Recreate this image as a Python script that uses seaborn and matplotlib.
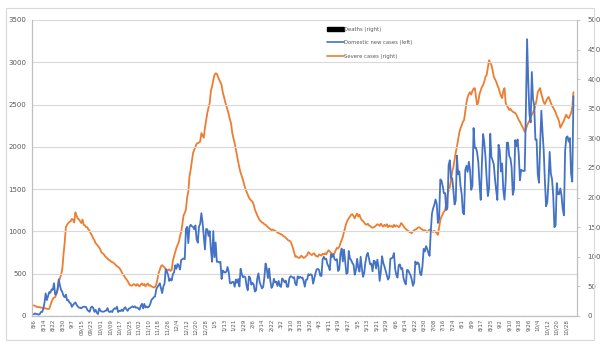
import numpy as np
import matplotlib
matplotlib.use("Agg")
import matplotlib.pyplot as plt
from matplotlib.patches import Rectangle
from matplotlib.lines import Line2D
import seaborn as sns

# daily series, 2020-08-06 .. 2021-11-03 (one row per week)
domestic_cases = [
    20, 30, 23, 23, 16, 22, 47,
    47, 85, 155, 267, 188, 235, 283,
    276, 315, 309, 387, 253, 264, 307,
    434, 359, 308, 283, 238, 222, 253,
    185, 189, 158, 152, 108, 130, 146,
    161, 133, 112, 99, 98, 91, 105,
    110, 109, 106, 73, 59, 49, 99,
    112, 95, 49, 73, 40, 23, 89,
    63, 54, 51, 52, 60, 64, 94,
    54, 47, 58, 46, 78, 91, 84,
    110, 47, 62, 58, 76, 58, 89,
    104, 77, 61, 88, 94, 103, 114,
    103, 114, 97, 101, 89, 75, 118,
    145, 89, 143, 100, 113, 100, 113,
    143, 191, 205, 223, 230, 313, 343,
    363, 386, 330, 271, 349, 382, 552,
    525, 486, 414, 438, 420, 493, 516,
    600, 559, 615, 594, 550, 662, 671,
    680, 673, 1030, 1054, 862, 1054, 1078,
    1062, 1053, 1025, 1071, 903, 867, 1059,
    1090, 1216, 1105, 946, 787, 1029, 1025,
    947, 1004, 786, 641, 1004, 696, 869,
    641, 641, 633, 641, 437, 537, 524,
    513, 524, 580, 520, 389, 386, 404,
    401, 346, 431, 392, 437, 349, 559,
    497, 458, 469, 458, 355, 305, 467,
    451, 370, 393, 372, 289, 303, 444,
    504, 403, 362, 326, 344, 457, 621,
    561, 448, 561, 416, 332, 357, 440,
    396, 406, 355, 415, 355, 344, 444,
    424, 398, 418, 346, 346, 446, 470,
    465, 452, 459, 382, 363, 469, 445,
    463, 452, 456, 415, 346, 428, 430,
    494, 482, 494, 482, 382, 447, 506,
    551, 557, 543, 477, 473, 668, 700,
    671, 677, 614, 587, 542, 731, 698,
    731, 673, 658, 672, 532, 549, 735,
    797, 644, 785, 644, 499, 512, 769,
    679, 661, 627, 606, 488, 541, 676,
    574, 525, 701, 564, 463, 511, 635,
    715, 747, 681, 610, 619, 528, 654,
    646, 561, 666, 585, 415, 530, 707,
    629, 587, 533, 480, 430, 459, 677,
    681, 695, 744, 556, 485, 454, 602,
    611, 556, 565, 452, 399, 373, 545,
    540, 507, 482, 429, 357, 395, 645,
    610, 634, 614, 501, 482, 595, 794,
    762, 826, 794, 743, 711, 1006, 1212,
    1275, 1316, 1378, 1324, 1100, 1150, 1615,
    1600, 1536, 1452, 1454, 1252, 1278, 1784,
    1842, 1630, 1629, 1487, 1318, 1365, 1896,
    1674, 1710, 1539, 1442, 1219, 1202, 1725,
    1776, 1704, 1823, 1729, 1492, 1537, 2223,
    1987, 1990, 1930, 1817, 1556, 1373, 1805,
    2152, 2052, 1882, 1626, 1418, 1509, 2154,
    1882, 1841, 1793, 1619, 1487, 1372, 2025,
    1961, 1709, 1804, 1490, 1375, 1597, 2049,
    2050, 1892, 1865, 1755, 1433, 1497, 2080,
    2008, 2087, 1910, 1605, 1729, 1720, 1715,
    1716, 2434, 3273, 2771, 2383, 2289, 2885,
    2564, 2486, 2085, 2086, 1673, 1575, 2028,
    2427, 2176, 1953, 1594, 1297, 1347, 1584,
    1940, 1684, 1617, 1420, 1050, 1073, 1571,
    1441, 1440, 1508, 1423, 1266, 1190, 1952,
    2111, 2124, 2061, 2104, 1686, 1589, 2600,
]

severe_cases = [
    18, 17, 16, 15, 15, 15, 14,
    14, 13, 13, 13, 12, 12, 12,
    18, 24, 29, 31, 32, 37, 46,
    58, 64, 70, 79, 104, 124, 150,
    154, 157, 159, 160, 164, 163, 158,
    175, 169, 165, 163, 160, 157, 163,
    154, 153, 150, 150, 146, 144, 139,
    136, 131, 128, 123, 121, 118, 116,
    112, 107, 106, 104, 101, 99, 97,
    95, 94, 92, 91, 90, 88, 86,
    84, 83, 81, 78, 74, 70, 68,
    64, 62, 59, 55, 52, 51, 52,
    54, 53, 51, 54, 52, 50, 53,
    55, 52, 54, 50, 53, 55, 51,
    52, 50, 49, 48, 49, 53, 62,
    72, 78, 84, 86, 84, 82, 79,
    78, 77, 79, 76, 78, 93, 101,
    108, 115, 120, 125, 135, 142, 155,
    170, 174, 180, 200, 210, 236, 247,
    262, 275, 281, 286, 291, 292, 293,
    295, 309, 305, 301, 318, 330, 343,
    352, 360, 380, 388, 398, 407, 410,
    409, 404, 399, 395, 390, 378, 370,
    362, 355, 348, 341, 332, 325, 309,
    300, 292, 281, 269, 260, 250, 242,
    236, 230, 222, 215, 210, 205, 200,
    197, 195, 193, 188, 180, 175, 170,
    166, 162, 160, 158, 157, 155, 154,
    152, 150, 148, 147, 145, 146, 145,
    144, 143, 141, 140, 139, 138, 137,
    135, 134, 132, 130, 128, 127, 126,
    121, 115, 108, 100, 101, 99, 98,
    99, 102, 100, 98, 99, 101, 103,
    108, 106, 104, 103, 105, 106, 102,
    101, 100, 104, 103, 102, 105, 104,
    106, 104, 108, 111, 109, 107, 105,
    103, 106, 111, 115, 114, 117, 123,
    128, 134, 142, 150, 157, 162, 165,
    168, 171, 172, 169, 165, 170, 173,
    168, 171, 165, 162, 160, 158, 155,
    154, 156, 153, 152, 150, 149, 150,
    151, 153, 155, 154, 152, 156, 153,
    151, 154, 152, 155, 150, 153, 151,
    152, 150, 154, 151, 153, 152, 150,
    152, 157, 155, 152, 149, 147, 145,
    144, 142, 141, 140, 143, 145, 146,
    147, 149, 150, 149, 147, 146, 144,
    145, 143, 142, 144, 146, 145, 143,
    142, 144, 142, 140, 137, 150, 162,
    168, 172, 176, 179, 190, 205, 212,
    218, 230, 244, 252, 264, 276, 286,
    298, 310, 317, 322, 328, 331, 345,
    360, 370, 375, 378, 374, 380, 384,
    385, 370, 356, 362, 375, 381, 387,
    390, 396, 404, 407, 420, 432, 428,
    424, 415, 404, 400, 396, 390, 385,
    378, 372, 368, 380, 385, 360, 355,
    352, 348, 350, 347, 345, 344, 343,
    340, 336, 331, 328, 324, 320, 316,
    311, 315, 322, 326, 330, 336, 340,
    344, 348, 356, 365, 378, 382, 385,
    375, 368, 361, 358, 363, 367, 370,
    366, 360, 355, 352, 348, 344, 338,
    334, 328, 318, 322, 326, 330, 336,
    340, 336, 334, 338, 343, 352, 378,
]

deaths = [
    0, 1, 0, 0, 1, 0, 0,
    0, 1, 0, 0, 0, 1, 0,
    1, 0, 1, 0, 0, 1, 1,
    0, 1, 0, 1, 1, 0, 1,
    1, 0, 1, 1, 0, 1, 2,
    1, 1, 0, 1, 2, 1, 1,
    1, 0, 1, 1, 0, 1, 1,
    1, 1, 0, 1, 1, 0, 1,
    0, 1, 1, 0, 1, 0, 1,
    1, 0, 1, 1, 0, 1, 0,
    1, 1, 0, 1, 1, 0, 1,
    1, 2, 1, 0, 1, 1, 0,
    1, 0, 1, 1, 0, 1, 1,
    1, 1, 0, 1, 1, 0, 1,
    1, 0, 1, 1, 1, 0, 1,
    1, 1, 1, 0, 1, 2, 1,
    2, 1, 1, 2, 1, 2, 2,
    2, 3, 2, 2, 3, 2, 3,
    3, 3, 4, 3, 3, 4, 5,
    4, 5, 4, 5, 6, 5, 5,
    6, 7, 5, 6, 5, 7, 8,
    6, 5, 6, 5, 4, 6, 5,
    5, 4, 5, 4, 3, 5, 4,
    4, 3, 4, 3, 3, 4, 3,
    3, 3, 2, 3, 2, 3, 3,
    2, 3, 2, 2, 2, 3, 2,
    2, 2, 1, 2, 2, 1, 2,
    2, 1, 2, 1, 1, 2, 1,
    1, 2, 1, 1, 1, 2, 1,
    1, 1, 1, 0, 1, 1, 1,
    1, 0, 1, 1, 0, 1, 0,
    1, 1, 0, 1, 0, 1, 1,
    0, 1, 1, 0, 1, 0, 1,
    1, 0, 1, 1, 0, 1, 1,
    1, 1, 0, 1, 1, 0, 1,
    0, 1, 1, 0, 1, 1, 0,
    1, 0, 1, 1, 0, 1, 1,
    1, 1, 0, 1, 1, 1, 0,
    1, 0, 1, 1, 0, 1, 1,
    0, 1, 1, 0, 1, 0, 1,
    1, 0, 1, 0, 1, 1, 0,
    1, 1, 0, 1, 0, 1, 1,
    0, 1, 0, 1, 1, 0, 1,
    1, 0, 1, 1, 0, 1, 0,
    0, 1, 1, 0, 1, 0, 1,
    1, 0, 0, 1, 1, 0, 1,
    0, 1, 0, 1, 0, 1, 1,
    0, 1, 1, 0, 1, 0, 0,
    1, 0, 1, 1, 0, 1, 0,
    0, 1, 0, 1, 1, 0, 1,
    1, 1, 0, 1, 1, 1, 0,
    1, 1, 1, 2, 1, 1, 1,
    1, 2, 1, 1, 2, 1, 2,
    2, 1, 2, 2, 1, 2, 2,
    2, 2, 1, 2, 2, 2, 1,
    2, 2, 2, 1, 2, 2, 3,
    2, 3, 2, 2, 3, 2, 2,
    3, 2, 3, 2, 2, 3, 3,
    2, 3, 3, 2, 3, 3, 2,
    3, 2, 3, 3, 2, 3, 3,
    3, 3, 2, 3, 3, 4, 3,
    3, 4, 3, 3, 4, 3, 3,
    4, 3, 4, 3, 3, 4, 4,
    3, 4, 4, 3, 4, 4, 3,
    4, 4, 3, 4, 4, 3, 4,
]

tick_labels = [
    "8/6", "8/14", "8/22", "8/30", "9/7", "09/15", "09/23", "10/01", "10/09",
    "10/17", "10/25", "11/02", "11/10", "11/18", "11/26", "12/4", "12/12",
    "12/20", "12/28", "1/5", "1/13", "1/21", "1/29", "2/6", "2/14", "2/22",
    "3/2", "3/10", "3/18", "3/26", "4/3", "4/11", "4/19", "4/27", "5/5",
    "5/13", "5/21", "5/29", "6/6", "6/14", "6/22", "6/30", "7/08", "7/16",
    "7/24", "8/1", "8/9", "8/17", "8/25", "9/2", "9/10", "9/18", "9/26",
    "10/4", "10/12", "10/20", "10/28",
]

BLUE = "#4472C4"
ORANGE = "#ED7D31"
GRID = "#D9D9D9"
TXT = "#595959"

sns.set_style("white")
plt.rcParams['font.family'] = ['DejaVu Sans']

fig = plt.figure(figsize=(6, 3.57), dpi=100)
ax = fig.add_axes([32 / 600, 1 - 316 / 357, 545 / 600, 296 / 357])
ax2 = ax.twinx()

# outer chart border
fig.patches.append(Rectangle((6 / 600, 1 - 340 / 357), 588 / 600, 332 / 357,
                             transform=fig.transFigure, fill=False,
                             edgecolor=GRID, lw=0.8))

x_dom = np.arange(len(domestic_cases))
x_sev = np.arange(len(severe_cases))
x_dth = np.arange(len(deaths))

ax2.bar(x_dth, deaths, width=0.7, color="black", zorder=1)
sns.lineplot(x=x_dom, y=domestic_cases, ax=ax, color=BLUE, lw=1.3, zorder=3)
sns.lineplot(x=x_sev, y=severe_cases, ax=ax2, color=ORANGE, lw=1.3, zorder=2)

ax.set_zorder(ax2.get_zorder() + 1)
ax.patch.set_visible(False)

ax.set_xlim(-1.5, 457)
ax.set_ylim(0, 3500)
ax2.set_ylim(0, 500)
ax.set_yticks(np.arange(0, 3501, 500))
ax2.set_yticks(np.arange(0, 501, 50))
ax.set_xticks(np.arange(0, 8 * len(tick_labels), 8))
ax.set_xticklabels(tick_labels, rotation=90, fontsize=4, color=TXT)
ax.tick_params(axis="y", labelsize=5, colors=TXT, length=0, pad=4)
ax2.tick_params(axis="y", labelsize=5, colors=TXT, length=2.5, width=0.6,
                color="#BFBFBF", pad=5)
ax.tick_params(axis="x", length=0, pad=2)
ax.grid(axis="y", color=GRID, lw=0.8)
ax.grid(axis="x", visible=False)
ax2.grid(False)

for a in (ax, ax2):
    a.spines["top"].set_visible(False)
    a.spines["left"].set_color("#BFBFBF")
    a.spines["right"].set_color("#BFBFBF")
    a.spines["bottom"].set_color("#BFBFBF")
    a.spines["left"].set_linewidth(0.8)
    a.spines["right"].set_linewidth(0.8)
    a.spines["bottom"].set_linewidth(0.8)
    a.set_xlabel("")
    a.set_ylabel("")

handles = [
    Rectangle((0, 0), 1, 1, color="black"),
    Line2D([0], [0], color=BLUE, lw=1.2),
    Line2D([0], [0], color=ORANGE, lw=1.2),
]
labels = ["Deaths (right)", "Domestic new cases (left)", "Severe cases (right)"]
fig.legend(handles, labels, loc="upper left",
           bbox_to_anchor=(322 / 600, 1 - 22 / 357), frameon=False,
           fontsize=3.8, handlelength=3.2, handleheight=0.6, handletextpad=0.1,
           labelspacing=1.6, labelcolor=TXT)

fig.savefig("out.png", dpi=100)
